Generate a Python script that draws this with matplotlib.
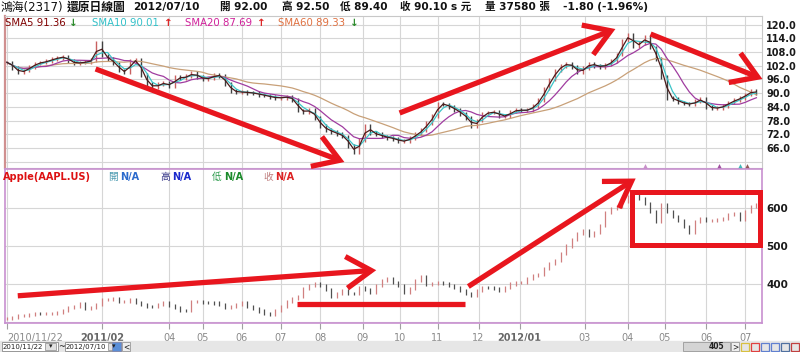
import numpy as np
import pandas as pd
import matplotlib
matplotlib.use('Agg')
import matplotlib.pyplot as plt
from matplotlib.patches import Rectangle, FancyArrowPatch

plt.rcParams['font.family'] = ['DejaVu Sans', 'Noto Sans CJK TC']

# ---------------- data ----------------
step = 3  # trading days per drawn bar
hh_close = [103.5, 101, 99, 100, 101.5, 103, 103.5, 104, 105, 105.5,
            106, 104, 103, 103.5, 103.6, 104.5, 112, 106.5, 105, 103,
            100, 99, 104, 104.5, 98, 94, 92.5, 94, 94.5, 93,
            97, 96.5, 97.5, 98.8, 97, 96.3, 96.5, 98, 97.5, 94,
            91, 90.5, 90.5, 90.2, 90, 89.3, 89, 88.2, 88, 88,
            88.5, 87, 82.5, 81.8, 82.6, 79, 75.5, 74, 73, 72,
            71, 67, 64, 69.5, 75.5, 72.5, 72, 71, 70.5, 70,
            69, 69, 70.5, 72, 74, 77, 80, 85.5, 85, 84,
            82.6, 81, 79, 75.5, 78, 81, 81.5, 81.8, 80, 80,
            82, 82.6, 82.5, 82.6, 84.5, 87, 92, 96, 100, 102,
            103, 101.5, 99, 101, 103, 102, 101.5, 102.5, 104, 107,
            113, 115.5, 110.5, 112, 114.6, 110, 105, 97, 88, 87.5,
            86, 85.5, 85, 86.5, 87.5, 84, 83.5, 83.5, 84.5, 86,
            87, 88, 89.5, 91, 90.1]
aapl_close = [310.5, 313, 316, 318, 321, 323, 322, 323, 323, 325,
              330, 337, 342, 348, 336, 338, 345, 358, 360, 362,
              353, 355, 358, 352, 345, 342, 340, 346, 350, 343,
              337, 331, 330, 353, 354, 352, 351, 350, 345, 338,
              340, 346, 350, 342, 336, 329, 322, 319, 330, 340,
              355, 362, 366, 388, 397, 402, 395, 385, 366, 376,
              384, 376, 375, 390, 385, 379, 395, 410, 414, 405,
              397, 378, 388, 408, 420, 398, 401, 403, 402, 397,
              390, 383, 375, 371, 382, 392, 390, 387, 384, 390,
              400, 404, 405, 415, 423, 425, 440, 455, 462, 480,
              500, 516, 532, 540, 528, 535, 555, 588, 598, 605,
              618, 630, 634, 625, 612, 590, 565, 610, 590, 578,
              568, 552, 535, 565, 571, 568, 568, 570, 572, 582,
              585, 570, 590, 605, 608]

month_idx = [0, 51, 87, 105, 126, 147, 168, 191, 211, 231, 253, 275, 310, 333, 353, 375, 396]
month_labels = ['2010/11/22', '2011/02', '04', '05', '06', '07', '08', '09', '10',
                '11', '12', '2012/01', '03', '04', '05', '06', '07']
bold_labels = ['2011/02', '2012/01']

hh_yticks = [60, 66, 72, 78, 84, 90, 96, 102, 108, 114, 120]
aapl_yticks = [300, 400, 500, 600]

sma_windows = [5, 10, 20, 60]
sma_names = ['SMA5', 'SMA10', 'SMA20', 'SMA60']
sma_last = ['91.36', '90.01', '87.69', '89.33']
sma_dir = ['↓', '↑', '↑', '↓']

signal_idx = [342, 382, 393, 397]
signal_colors = ['#c890c8', '#a050a0', '#40b8b8', '#905858']

title_items = [('鴻海(2317)', 1, 'normal', 8.5), ('還原日線圖', 67, 'bold', 8.5),
               ('2012/07/10', 133, 'bold', 7.6), ('開 92.00', 220, 'bold', 7.6),
               ('高 92.50', 282, 'bold', 7.6), ('低 89.40', 340, 'bold', 7.6),
               ('收 90.10 s 元', 400, 'bold', 7.6), ('量 37580 張', 485, 'bold', 7.6),
               ('-1.80 (-1.96%)', 563, 'bold', 7.6)]

# ---------------- figure ----------------
W, H = 800, 352
fig = plt.figure(figsize=(W / 100, H / 100), dpi=100)
fig.patch.set_facecolor('white')


def rect(x0, y0, x1, y1):
    return [x0 / W, 1 - y1 / H, (x1 - x0) / W, (y1 - y0) / H]


ax1 = fig.add_axes(rect(5, 16, 762, 168))
ax2 = fig.add_axes(rect(5, 169, 762, 323))


def draw_bars(ax, close, wick, lw, up_col, dn_col):
    c = np.asarray(close, dtype=float)
    o = np.r_[c[0], c[:-1]]
    x = np.arange(len(c)) * step
    lo = np.minimum(o, c) - wick
    hi = np.maximum(o, c) + wick
    cols = np.where(c >= o, up_col, dn_col)
    ax.vlines(x, lo, hi, colors=cols, lw=lw, zorder=3)
    return x, c


for ax in (ax1, ax2):
    ax.set_xlim(-1, 405)
    ax.set_xticks(month_idx)
    ax.grid(True, color='#d6d6d6', lw=0.8)
    ax.set_axisbelow(True)
    ax.yaxis.tick_right()

# top panel
x1, c1 = draw_bars(ax1, hh_close, 0.8, 1.0, '#c86060', '#404040')
ma_colors = ['#4a1a1a', '#3cc4c8', '#a03ca0', '#c8a078']
s = pd.Series(c1)
for w, col in zip(sma_windows[::-1], ma_colors[::-1]):
    ma = s.rolling(max(1, round(w / step)), min_periods=1).mean()
    ax1.plot(x1, ma, color=col, lw=0.9, zorder=4)
ax1.set_ylim(57.25, 123.8)
ax1.set_yticks(hh_yticks)
ax1.set_yticklabels(['' if v == 60 else f'{v:.1f}' for v in hh_yticks],
                    fontsize=7, fontweight='bold', color='#1a1a1a')
ax1.tick_params(axis='both', length=0, pad=3)
ax1.tick_params(axis='x', labelbottom=False)
for xi, col in zip(signal_idx, signal_colors):
    ax1.plot([xi], [58.2], marker='^', ms=3.5, color=col, mew=0, zorder=5)
for sp in ax1.spines.values():
    sp.set_color('#c8c8c8')
ax1.spines['left'].set_color('#d09090')
ax1.spines['left'].set_linewidth(1.6)

# bottom panel
draw_bars(ax2, aapl_close, 4.0, 0.9, '#d08080', '#505050')
ax2.set_ylim(297.4, 702.6)
ax2.set_yticks(aapl_yticks)
ax2.set_yticklabels(['' if v == 300 else str(v) for v in aapl_yticks],
                    fontsize=7.5, fontweight='bold', color='#1a1a1a')
ax2.tick_params(axis='y', length=0, pad=3)
ax2.set_xticklabels(month_labels, fontsize=7, color='#888888')
ax2.tick_params(axis='x', length=4.5, color='#a0a0a0', pad=2.5, direction='out')
for lab in ax2.get_xticklabels():
    if lab.get_text() in bold_labels:
        lab.set_fontweight('bold')
        lab.set_color('#666666')
ax2.get_xticklabels()[0].set_ha('left')
for sp in ax2.spines.values():
    sp.set_color('#c890d0')
    sp.set_linewidth(1.2)

# ---------------- overlay (text + annotations in pixel coords) ----------------
ov = fig.add_axes([0, 0, 1, 1], zorder=10)
ov.set_xlim(0, W)
ov.set_ylim(H, 0)
ov.axis('off')
ov.patch.set_alpha(0)

for txt, xx, wt, fs in title_items:
    ov.text(xx, 7, txt, fontsize=fs, fontweight=wt, color='#111111', va='center', ha='left')

sma_x = [5, 92, 185, 278]
sma_arrow_x = [69, 164, 257, 350]
sma_text_col = ['#800000', '#30c0c8', '#d0209a', '#e07040']
sma_arrow_col = ['#2a8a2a', '#dd2222', '#dd2222', '#2a8a2a']
for nm, val, d, xx, ax_, tc, ac in zip(sma_names, sma_last, sma_dir, sma_x,
                                       sma_arrow_x, sma_text_col, sma_arrow_col):
    ov.text(xx, 23, f'{nm} {val}', fontsize=7.3, color=tc, va='center', ha='left')
    ov.text(ax_, 23, d, fontsize=7.5, color=ac, va='center', ha='left', fontweight='bold')

ov.text(3, 177, 'Apple(AAPL.US)', fontsize=7, fontweight='bold', color='#dd1111',
        va='center', ha='left')
hdr = [('開', 108, '#4a9ab0', '#2a6acc'), ('高', 160, '#3a3a8a', '#1a2acc'),
       ('低', 212, '#2a9a4a', '#1a8a2a'), ('收', 263, '#c08080', '#dd2222')]
for ch, xx, c_a, c_b in hdr:
    ov.text(xx, 177, ch, fontsize=7, color=c_a, va='center', ha='left')
    ov.text(xx + 12, 177, 'N/A', fontsize=7, color=c_b, va='center', ha='left',
            fontweight='bold')

red = '#e8161e'
arrows = [((93, 68), (347, 163)), ((397, 114), (618, 28)), ((648, 33), (765, 80)),
          ((15, 296), (379, 270)), ((466, 288), (638, 177))]
for a, b in arrows:
    ov.add_patch(FancyArrowPatch(a, b, arrowstyle='->,head_length=0.6,head_width=0.38',
                                 mutation_scale=30, lw=3.8, color=red,
                                 capstyle='butt', joinstyle='miter'))
ov.plot([297, 465], [304, 304], color=red, lw=3.8, solid_capstyle='butt')
ov.add_patch(Rectangle((632, 192), 128, 53, fill=False, ec=red, lw=3.6))

# bottom toolbar
ov.add_patch(Rectangle((0, 341), 800, 11, color='#e6e6e6', zorder=0))
for bx, txt in [(2, '2010/11/22'), (65, '2012/07/10')]:
    ov.add_patch(Rectangle((bx, 342), 56, 9, fc='white', ec='#888888', lw=0.6))
    ov.text(bx + 1, 346.8, txt, fontsize=5, color='#222222', va='center', ha='left')
    ov.add_patch(Rectangle((bx + 43, 343), 11, 7, fc='#e0e0e0', ec='#888888', lw=0.5))
    ov.text(bx + 48.5, 346.5, '▾', fontsize=5, color='#222222', va='center', ha='center')
ov.text(61.5, 346.5, '~', fontsize=6, color='#222222', va='center', ha='center')
ov.add_patch(Rectangle((112, 342), 9, 9, fc='#5b8fd8', ec='#8888aa', lw=0.5))
ov.add_patch(Rectangle((122, 342), 8, 9, fc='#eeeeee', ec='#888888', lw=0.5))
ov.text(126, 346.5, '<', fontsize=5.5, color='#222222', va='center', ha='center')
ov.add_patch(Rectangle((683, 342), 47, 9, fc='#d4d4d4', ec='#999999', lw=0.6))
ov.text(724, 346.8, '405', fontsize=5.5, fontweight='bold', color='#222222',
        va='center', ha='right')
ov.add_patch(Rectangle((731, 342), 8, 9, fc='#eeeeee', ec='#888888', lw=0.5))
ov.text(735, 346.5, '>', fontsize=5.5, color='#222222', va='center', ha='center')
for ix, col in zip([741, 751, 761, 771, 781, 791],
                   ['#d8c040', '#e04040', '#6080d0', '#6080d0', '#5070a0', '#c04040']):
    ov.add_patch(Rectangle((ix, 343), 8, 8, fc='none', ec=col, lw=0.9))

fig.savefig('out.png', dpi=100)
